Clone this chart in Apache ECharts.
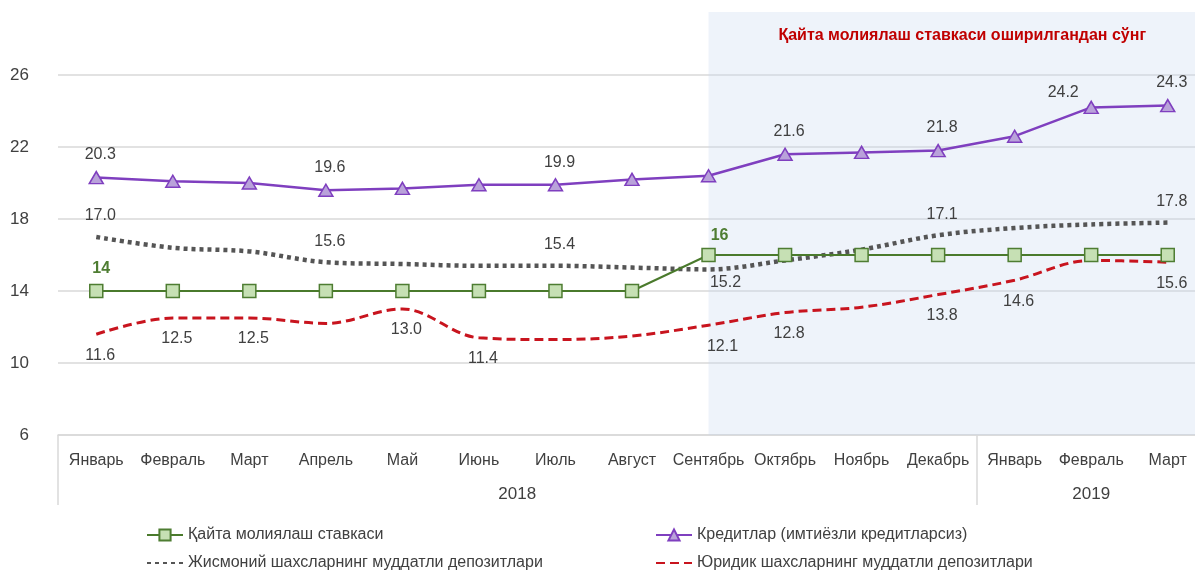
<!DOCTYPE html>
<html>
<head>
<meta charset="utf-8">
<script src="https://cdn.jsdelivr.net/npm/echarts@6/dist/echarts.min.js"></script>
<style>
    html, body { margin: 0; padding: 0; background: #ffffff; }
    #chart { width: 1195px; height: 572px; }
</style>
</head>
<body>
<div id="chart"></div>
<script>
var months = ['Январь', 'Февраль', 'Март', 'Апрель', 'Май', 'Июнь', 'Июль', 'Август',
    'Сентябрь', 'Октябрь', 'Ноябрь', 'Декабрь', 'Январь', 'Февраль', 'Март'];
var yearLabels = ['2018', '2019'];
var yearMonthCounts = [12, 3];

var seriesNames = [
    'Қайта молиялаш ставкаси',
    'Кредитлар (имтиёзли кредитларсиз)',
    'Жисмоний шахсларнинг муддатли депозитлари',
    'Юридик шахсларнинг муддатли депозитлари'
];

var refinancingRate = [14, 14, 14, 14, 14, 14, 14, 14, 16, 16, 16, 16, 16, 16, 16];
var credits = [20.3, 20.1, 20.0, 19.6, 19.7, 19.9, 19.9, 20.2, 20.4, 21.6, 21.7, 21.8, 22.6, 24.2, 24.3];
var individualDeposits = [17.0, 16.4, 16.2, 15.6, 15.5, 15.4, 15.4, 15.3, 15.2, 15.7, 16.3, 17.1, 17.5, 17.7, 17.8];
var legalDeposits = [11.6, 12.5, 12.5, 12.2, 13.0, 11.4, 11.3, 11.5, 12.1, 12.8, 13.1, 13.8, 14.6, 15.7, 15.6];

// points that carry a value label in the original
var refinancingLabelIdx = [0, 8];
var creditsLabelIdx = [0, 3, 6, 9, 11, 13, 14];
var individualLabelIdx = [0, 3, 6, 8, 11, 14];
var legalLabelIdx = [0, 1, 2, 4, 5, 8, 9, 11, 12, 14];

var shadeTitle = 'Қайта молиялаш ставкаси оширилгандан сўнг';
var shadeStartIdx = 8;

var yMin = 6;
var yMax = 29.5;
var yInterval = 4;

(function () {
    'use strict';

    var font = "'Liberation Sans', Arial, sans-serif";
    var textColor = '#404040';

    function oneDecimal(p) {
        return Number(p.value).toFixed(1);
    }

    function withLabels(values, labelIdx, base, overrides) {
        return values.map(function (v, i) {
            if (labelIdx.indexOf(i) < 0) {
                return v;
            }
            return { value: v, label: Object.assign({ show: true }, base, overrides[i] || {}) };
        });
    }

    function yearCenters() {
        var start = 0;
        return yearMonthCounts.map(function (n) {
            var c = start + n / 2;
            start += n;
            return c;
        });
    }

    function yearBounds() {
        var start = 0;
        return yearMonthCounts.map(function (n) {
            var b = start;
            start += n;
            return b;
        });
    }

    function render() {
        var chart = echarts.init(document.getElementById('chart'), null, { renderer: 'canvas' });
        var centers = yearCenters();

        var baseLabel = { fontFamily: font, fontSize: 16, color: textColor };

        var greenLabel = Object.assign({}, baseLabel, {
            position: 'top', distance: 7, offset: [5, 0],
            color: '#4e7d32', fontWeight: 'bold', formatter: '{c}'
        });
        var purpleLabel = Object.assign({}, baseLabel, {
            position: 'top', distance: 8, offset: [4, 0], formatter: oneDecimal
        });
        var grayLabel = Object.assign({}, baseLabel, {
            position: 'top', distance: 13, offset: [4, 0], formatter: oneDecimal
        });
        var redLabel = Object.assign({}, baseLabel, {
            position: 'bottom', distance: 13, offset: [4, 0], formatter: oneDecimal
        });

        chart.setOption({
            animation: false,
            grid: {
                left: 58,
                top: 12,
                width: 1148,
                height: 423,
                containLabel: false,
                outerBoundsMode: 'none'
            },
            legend: [
                {
                    left: 146, top: 527, orient: 'vertical', padding: 0,
                    itemGap: 12, itemWidth: 36, itemHeight: 14,
                    textStyle: { fontFamily: font, fontSize: 16, color: textColor },
                    data: [
                        { name: seriesNames[0] },
                        { name: seriesNames[2], itemStyle: { opacity: 0 } }
                    ]
                },
                {
                    left: 655, top: 527, orient: 'vertical', padding: 0,
                    itemGap: 12, itemWidth: 36, itemHeight: 14,
                    textStyle: { fontFamily: font, fontSize: 16, color: textColor },
                    data: [
                        { name: seriesNames[1] },
                        { name: seriesNames[3], itemStyle: { opacity: 0 } }
                    ]
                }
            ],
            xAxis: [
                {
                    type: 'category',
                    position: 'bottom',
                    data: months,
                    boundaryGap: true,
                    axisLine: { show: false },
                    axisTick: { show: false },
                    axisLabel: {
                        interval: 0,
                        margin: 18,
                        fontFamily: font,
                        fontSize: 16,
                        color: textColor
                    }
                },
                {
                    type: 'value',
                    position: 'bottom',
                    min: 0,
                    max: months.length,
                    axisLine: { show: true, lineStyle: { color: '#d9d9d9', width: 1.5 } },
                    axisTick: {
                        show: true,
                        customValues: yearBounds(),
                        length: 70,
                        lineStyle: { color: '#d9d9d9', width: 1.5 }
                    },
                    splitLine: { show: false },
                    axisLabel: {
                        customValues: centers,
                        margin: 51,
                        fontFamily: font,
                        fontSize: 17,
                        color: textColor,
                        formatter: function (v) {
                            var i = centers.indexOf(v);
                            return i >= 0 ? yearLabels[i] : '';
                        }
                    }
                }
            ],
            yAxis: {
                type: 'value',
                min: yMin,
                max: yMax,
                interval: yInterval,
                axisLine: { show: false },
                axisTick: { show: false },
                axisLabel: {
                    margin: 29,
                    showMaxLabel: false,
                    fontFamily: font,
                    fontSize: 17,
                    color: textColor
                },
                splitLine: {
                    showMaxLine: false,
                    lineStyle: { color: '#d9d9d9', width: 1.5 }
                }
            },
            series: [
                {
                    name: seriesNames[0],
                    type: 'line',
                    z: 5,
                    data: withLabels(refinancingRate, refinancingLabelIdx, greenLabel, {
                        8: { offset: [11, 3] }
                    }),
                    symbol: 'rect',
                    symbolSize: 13,
                    lineStyle: { color: '#4a7a2c', width: 2 },
                    itemStyle: { color: '#c6e0b4', borderColor: '#4e7d32', borderWidth: 1.5 }
                },
                {
                    name: seriesNames[1],
                    type: 'line',
                    z: 4,
                    data: withLabels(credits, creditsLabelIdx, purpleLabel, {
                        13: { offset: [-28, 8] }
                    }),
                    symbol: 'triangle',
                    symbolSize: [14, 12],
                    lineStyle: { color: '#7f3fbf', width: 2.5 },
                    itemStyle: { color: '#b9a2da', borderColor: '#7f3fbf', borderWidth: 1.5 },
                    markArea: {
                        silent: true,
                        itemStyle: { color: 'rgba(198, 214, 240, 0.3)' },
                        label: {
                            show: true,
                            position: 'insideTop',
                            distance: 16,
                            offset: [5, 0],
                            fontFamily: font,
                            fontSize: 16,
                            fontWeight: 'bold',
                            color: '#c00000'
                        },
                        data: [[
                            { name: shadeTitle, xAxis: shadeStartIdx, yAxis: yMin },
                            { yAxis: yMax }
                        ]]
                    }
                },
                {
                    name: seriesNames[2],
                    type: 'line',
                    z: 3,
                    smooth: 0.35,
                    data: withLabels(individualDeposits, individualLabelIdx, grayLabel, {
                        8: { position: 'bottom', distance: 5, offset: [17, 0] }
                    }),
                    symbol: 'circle',
                    symbolSize: 0,
                    lineStyle: { color: '#555555', width: 4.5, type: [4, 4] },
                    itemStyle: { color: '#555555' }
                },
                {
                    name: seriesNames[3],
                    type: 'line',
                    z: 2,
                    smooth: 0.35,
                    data: withLabels(legalDeposits, legalLabelIdx, redLabel, {
                        8: { offset: [14, 0] }
                    }),
                    symbol: 'circle',
                    symbolSize: 0,
                    lineStyle: { color: '#c8141e', width: 3, type: [9, 5] },
                    itemStyle: { color: '#c8141e' }
                }
            ]
        });
    }

    render();
})();
</script>
</body>
</html>
